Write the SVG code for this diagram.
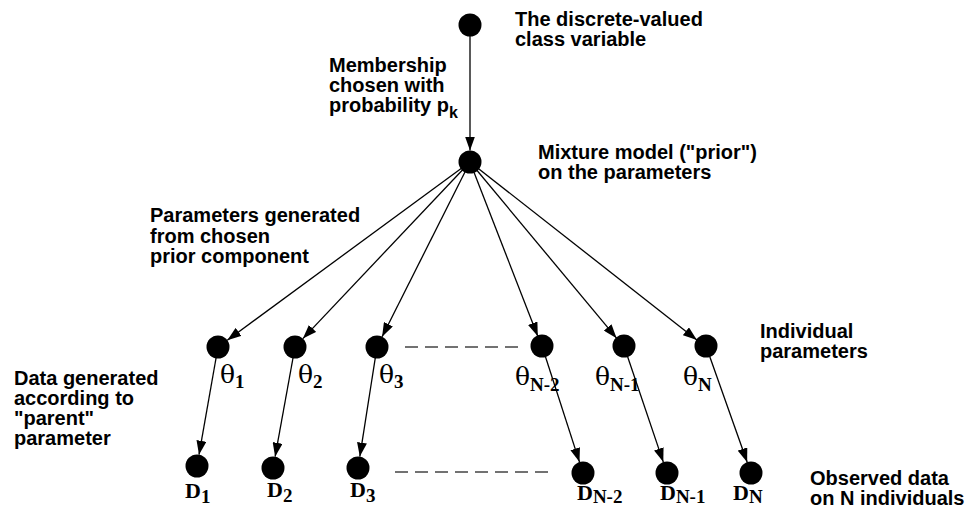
<svg xmlns="http://www.w3.org/2000/svg" width="967" height="508" viewBox="0 0 967 508">
<style>
.lbl{font-family:"Liberation Sans",Arial,sans-serif;font-weight:bold;font-size:20px;fill:#000}
.th{font-family:"DejaVu Serif","Liberation Serif",serif;font-size:25px;fill:#000}
.dl{font-family:"Liberation Serif","Times New Roman",serif;font-weight:bold;font-size:22px;fill:#000}
.sub{font-family:"Liberation Serif","Times New Roman",serif;font-weight:bold;font-size:19px}
.ksub{font-size:16px}
.edge{stroke:#000;stroke-width:1.3;fill:none;marker-end:url(#ah)}
.dash{stroke:#444;stroke-width:1.6;stroke-dasharray:13 7;fill:none}
.node{fill:#000}
</style>
<defs>
<marker id="ah" markerUnits="userSpaceOnUse" markerWidth="15" markerHeight="10" refX="14" refY="5" orient="auto">
<path d="M0,0 L14,5 L0,10 z" fill="#000"/>
</marker>
</defs>
<g id="connectors">
<line class="edge" x1="470" y1="25" x2="470" y2="150.5"/>
<line class="edge" x1="470" y1="162" x2="227.3" y2="340.2"/>
<line class="edge" x1="470" y1="162" x2="302.9" y2="338.6"/>
<line class="edge" x1="470" y1="162" x2="382.1" y2="336.7"/>
<line class="edge" x1="470" y1="162" x2="537.8" y2="336.3"/>
<line class="edge" x1="470" y1="162" x2="616.6" y2="338.2"/>
<line class="edge" x1="470" y1="162" x2="696.9" y2="339.9"/>
<line class="edge" x1="218" y1="347" x2="199.0" y2="454.7"/>
<line class="edge" x1="295" y1="347" x2="275.1" y2="456.7"/>
<line class="edge" x1="377" y1="347" x2="359.8" y2="456.6"/>
<line class="edge" x1="542" y1="346" x2="579.5" y2="462.1"/>
<line class="edge" x1="624" y1="346" x2="663.3" y2="462.1"/>
<line class="edge" x1="706" y1="346" x2="747.2" y2="462.2"/>
<line class="dash" x1="405" y1="347" x2="518" y2="347"/>
<line class="dash" x1="395" y1="472" x2="548" y2="472"/>
</g>
<g id="class-node"><circle class="node" cx="470" cy="25" r="11.5"/>
<text class="lbl" x="515" y="26">The discrete-valued</text>
<text class="lbl" x="515" y="46">class variable</text></g>
<g id="membership-label">
<text class="lbl" x="329" y="72">Membership</text>
<text class="lbl" x="329" y="92">chosen with</text>
<text class="lbl" x="329" y="112">probability p<tspan class="ksub" dy="6">k</tspan></text></g>
<g id="mixture-node"><circle class="node" cx="470" cy="162" r="11.5"/>
<text class="lbl" x="538" y="159">Mixture model ("prior")</text>
<text class="lbl" x="538" y="179">on the parameters</text></g>
<g id="params-label">
<text class="lbl" x="150" y="222">Parameters generated</text>
<text class="lbl" x="150" y="243">from chosen</text>
<text class="lbl" x="150" y="263">prior component</text></g>
<g id="theta1"><circle class="node" cx="218" cy="347" r="11.5"/><text class="th" x="220" y="383">θ<tspan class="sub" dy="5">1</tspan></text></g>
<g id="theta2"><circle class="node" cx="295" cy="347" r="11.5"/><text class="th" x="298" y="383">θ<tspan class="sub" dy="5">2</tspan></text></g>
<g id="theta3"><circle class="node" cx="377" cy="347" r="11.5"/><text class="th" x="379" y="383">θ<tspan class="sub" dy="5">3</tspan></text></g>
<g id="thetaN-2"><circle class="node" cx="542" cy="346" r="11.5"/><text class="th" x="515" y="385">θ<tspan class="sub" dy="6">N-2</tspan></text></g>
<g id="thetaN-1"><circle class="node" cx="624" cy="346" r="11.5"/><text class="th" x="595" y="385">θ<tspan class="sub" dy="6">N-1</tspan></text></g>
<g id="thetaN"><circle class="node" cx="706" cy="346" r="11.5"/><text class="th" x="683" y="385">θ<tspan class="sub" dy="6">N</tspan></text></g>
<g id="indiv-label">
<text class="lbl" x="760" y="338">Individual</text>
<text class="lbl" x="760" y="358">parameters</text></g>
<g id="data-label">
<text class="lbl" x="14" y="385">Data generated</text>
<text class="lbl" x="14" y="405">according to</text>
<text class="lbl" x="14" y="425">"parent"</text>
<text class="lbl" x="14" y="445">parameter</text></g>
<g id="D1"><circle class="node" cx="197" cy="466" r="11.5"/><text class="dl" x="185" y="498">D<tspan class="sub" dy="5">1</tspan></text></g>
<g id="D2"><circle class="node" cx="273" cy="468" r="11.5"/><text class="dl" x="267" y="497">D<tspan class="sub" dy="5">2</tspan></text></g>
<g id="D3"><circle class="node" cx="358" cy="468" r="11.5"/><text class="dl" x="350" y="497">D<tspan class="sub" dy="5">3</tspan></text></g>
<g id="DN-2"><circle class="node" cx="583" cy="473" r="11.5"/><text class="dl" x="577" y="500">D<tspan class="sub" dy="3">N-2</tspan></text></g>
<g id="DN-1"><circle class="node" cx="667" cy="473" r="11.5"/><text class="dl" x="660" y="500">D<tspan class="sub" dy="3">N-1</tspan></text></g>
<g id="DN"><circle class="node" cx="751" cy="473" r="11.5"/><text class="dl" x="733" y="500">D<tspan class="sub" dy="3">N</tspan></text></g>
<g id="observed-label">
<text class="lbl" x="810" y="485">Observed data</text>
<text class="lbl" x="810" y="505">on N individuals</text></g>
</svg>
